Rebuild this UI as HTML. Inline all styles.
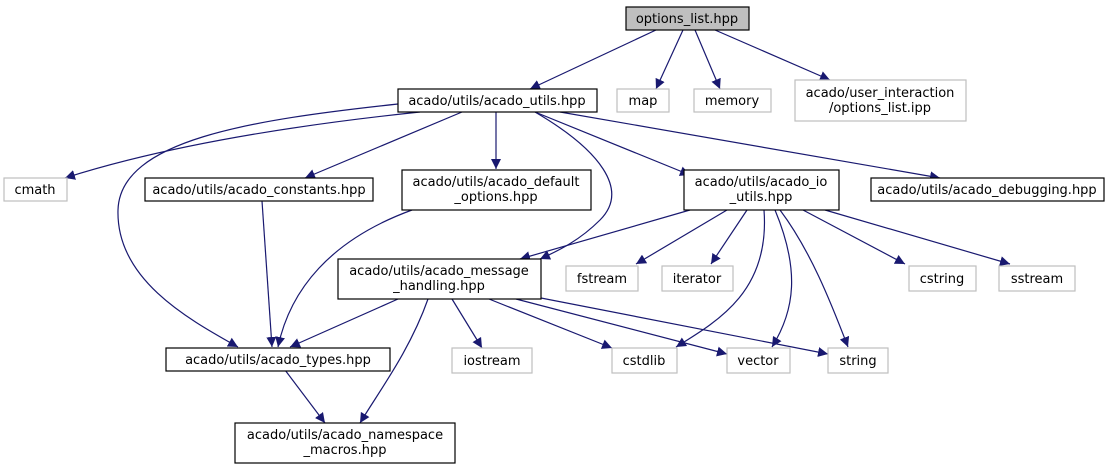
<!DOCTYPE html>
<html><head><meta charset="utf-8"><style>
body{margin:0;background:#fff;}
svg{display:block;}
text{font-family:"DejaVu Sans","Liberation Sans",sans-serif;font-size:13px;fill:#000;}
</style></head><body>
<svg width="1108" height="469" viewBox="0 0 1108 469" xmlns="http://www.w3.org/2000/svg">
<defs>
<marker id="a" viewBox="0 0 10 10" refX="10" refY="5" markerWidth="10" markerHeight="10" markerUnits="userSpaceOnUse" orient="auto">
<path d="M0,0 L10,5 L0,10 z" fill="#191970"/>
</marker>
</defs>
<g fill="none" stroke="#191970" stroke-width="1.2" marker-end="url(#a)">
<path d="M656,30 L530,89"/>
<path d="M683,30 L656,89"/>
<path d="M695,30 L720,89"/>
<path d="M715,30 L830,80"/>
<path d="M420,112 Q200,135 65,178"/>
<path d="M398,104 C250,120 120,140 118,210 C116,280 190,320 238,347"/>
<path d="M462,112 L305,178"/>
<path d="M496,112 L496,169"/>
<path d="M535,112 L690,175"/>
<path d="M560,112 L940,178"/>
<path d="M535,112 C600,150 630,190 600,220 C580,240 560,250 540,259"/>
<path d="M262,201 L272,347"/>
<path d="M412,210 C330,240 290,290 278,347"/>
<path d="M690,210 L520,259"/>
<path d="M727,210 L636,264"/>
<path d="M747,210 L711,264"/>
<path d="M764,210 C770,290 720,320 676,347"/>
<path d="M775,210 C800,270 795,310 772,347"/>
<path d="M780,210 C810,250 830,300 848,347"/>
<path d="M803,210 L905,264"/>
<path d="M825,210 L1010,264"/>
<path d="M398,299 L290,347"/>
<path d="M428,299 C410,350 380,390 360,423"/>
<path d="M452,299 L482,348"/>
<path d="M489,299 L612,348"/>
<path d="M516,299 L727,354"/>
<path d="M541,298 L828,354"/>
<path d="M285,370 L325,423"/>
</g>
<g stroke-width="1.2">
<rect x="626" y="7" width="123" height="23" fill="#bfbfbf" stroke="#000"/>
<rect x="398" y="89" width="199" height="23" fill="#fff" stroke="#000"/>
<rect x="617" y="89" width="52" height="23" fill="#fff" stroke="#bfbfbf"/>
<rect x="694" y="89" width="77" height="23" fill="#fff" stroke="#bfbfbf"/>
<rect x="795" y="80" width="171" height="41" fill="#fff" stroke="#bfbfbf"/>
<rect x="4" y="178" width="63" height="23" fill="#fff" stroke="#bfbfbf"/>
<rect x="145" y="178" width="228" height="23" fill="#fff" stroke="#000"/>
<rect x="402" y="170" width="189" height="40" fill="#fff" stroke="#000"/>
<rect x="684" y="170" width="155" height="40" fill="#fff" stroke="#000"/>
<rect x="871" y="178" width="233" height="23" fill="#fff" stroke="#000"/>
<rect x="338" y="259" width="203" height="40" fill="#fff" stroke="#000"/>
<rect x="566" y="266" width="72" height="25" fill="#fff" stroke="#bfbfbf"/>
<rect x="662" y="266" width="71" height="25" fill="#fff" stroke="#bfbfbf"/>
<rect x="909" y="266" width="67" height="25" fill="#fff" stroke="#bfbfbf"/>
<rect x="999" y="266" width="76" height="25" fill="#fff" stroke="#bfbfbf"/>
<rect x="166" y="348" width="224" height="23" fill="#fff" stroke="#000"/>
<rect x="452" y="348" width="80" height="25" fill="#fff" stroke="#bfbfbf"/>
<rect x="612" y="348" width="65" height="25" fill="#fff" stroke="#bfbfbf"/>
<rect x="727" y="348" width="63" height="25" fill="#fff" stroke="#bfbfbf"/>
<rect x="828" y="348" width="60" height="25" fill="#fff" stroke="#bfbfbf"/>
<rect x="235" y="423" width="220" height="40" fill="#fff" stroke="#000"/>
</g>
<g text-anchor="middle">
<text x="687" y="23">options_list.hpp</text>
<text x="497" y="105">acado/utils/acado_utils.hpp</text>
<text x="643" y="105">map</text>
<text x="732" y="105">memory</text>
<text x="880" y="97">acado/user_interaction</text>
<text x="880" y="112">/options_list.ipp</text>
<text x="35" y="194">cmath</text>
<text x="259" y="194">acado/utils/acado_constants.hpp</text>
<text x="496" y="186">acado/utils/acado_default</text>
<text x="496" y="201">_options.hpp</text>
<text x="761" y="186">acado/utils/acado_io</text>
<text x="761" y="201">_utils.hpp</text>
<text x="987" y="194">acado/utils/acado_debugging.hpp</text>
<text x="439" y="275">acado/utils/acado_message</text>
<text x="439" y="290">_handling.hpp</text>
<text x="602" y="283">fstream</text>
<text x="697" y="283">iterator</text>
<text x="942" y="283">cstring</text>
<text x="1037" y="283">sstream</text>
<text x="278" y="364">acado/utils/acado_types.hpp</text>
<text x="492" y="365">iostream</text>
<text x="644" y="365">cstdlib</text>
<text x="758" y="365">vector</text>
<text x="858" y="365">string</text>
<text x="345" y="439">acado/utils/acado_namespace</text>
<text x="345" y="454">_macros.hpp</text>
</g>
</svg>
</body></html>
